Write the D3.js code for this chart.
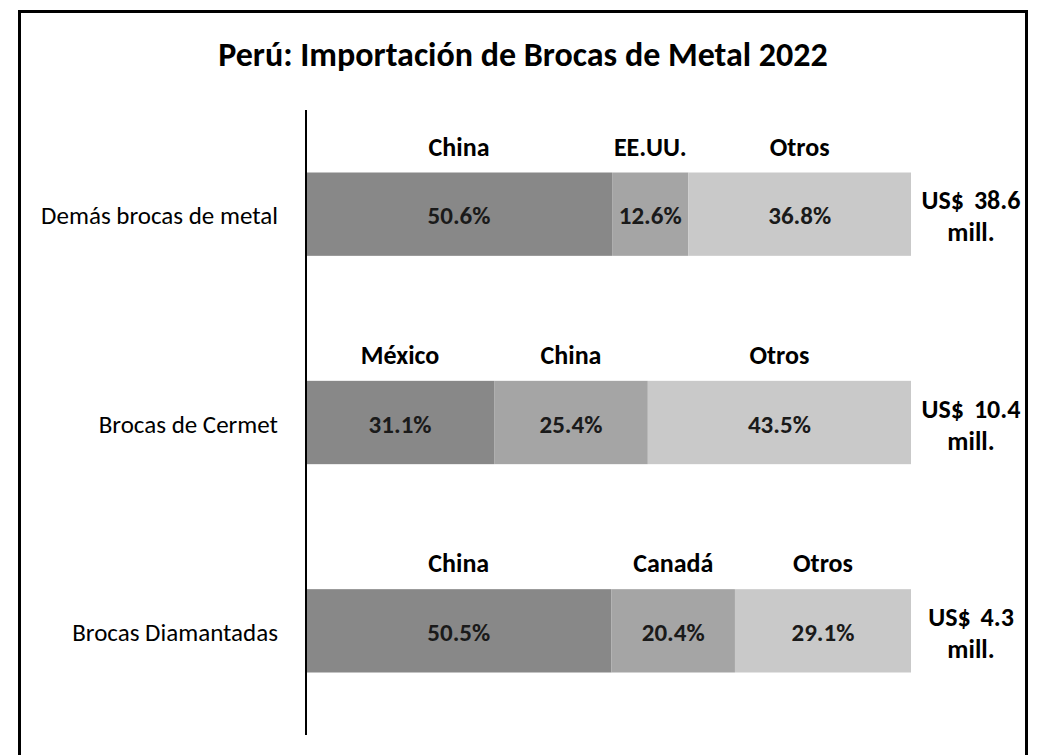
<!DOCTYPE html>
<html>
<head>
<meta charset="utf-8">
<script src="https://cdn.jsdelivr.net/npm/d3@7"></script>
<style>
  html, body { margin: 0; padding: 0; background: #fff; }
  svg { display: block; font-family: Carlito, Calibri, Lato, "Open Sans", sans-serif; }
</style>
</head>
<body>
<svg id="chart" width="1043" height="755"></svg>
<script>
// ---- data ----
const titleText = "Perú: Importación de Brocas de Metal 2022";
const categories = ["Demás brocas de metal", "Brocas de Cermet", "Brocas Diamantadas"];
const countries = [
  ["China", "EE.UU.", "Otros"],
  ["México", "China", "Otros"],
  ["China", "Canadá", "Otros"]
];
const shares = [
  [50.6, 12.6, 36.8],
  [31.1, 25.4, 43.5],
  [50.5, 20.4, 29.1]
];
const totals = [38.6, 10.4, 4.3];
const totalUnit = "mill.";
const segmentColors = ["#888888", "#a5a5a5", "#c9c9c9"];

// ---- layout ----
const W = 1043, H = 755;
const svg = d3.select("#chart");
const plot = { left: 306, right: 911, top: 110, bottom: 735 };

// frame
svg.append("rect")
  .attr("x", 19.5).attr("y", 11.5)
  .attr("width", 1007).attr("height", H + 20)
  .attr("fill", "none").attr("stroke", "#000").attr("stroke-width", 3);

// title
const title = svg.append("text")
  .attr("x", 523).attr("y", 66)
  .attr("text-anchor", "middle")
  .attr("font-weight", "bold")
  .attr("font-size", 30)
  .attr("fill", "#000")
  .text(titleText);
const tw = title.node().getComputedTextLength();
title.attr("font-size", 30 * 610 / tw);

// scales
const x = d3.scaleLinear().domain([0, 100]).range([plot.left, plot.right]);
const y = d3.scaleBand().domain(categories).range([plot.top, plot.bottom])
  .paddingInner(0.6).paddingOuter(0.3);

// stacked rows
const rows = categories.map((c, i) => {
  let acc = 0;
  const segs = shares[i].map((v, j) => {
    const s = { cat: c, country: countries[i][j], value: v, x0: acc, x1: acc + v, idx: j };
    acc += v;
    return s;
  });
  return { cat: c, segs, total: totals[i] };
});

const g = svg.append("g");
const rowG = g.selectAll("g.row").data(rows).join("g").attr("class", "row");

rowG.selectAll("rect.seg").data(d => d.segs).join("rect")
  .attr("class", "seg")
  .attr("x", d => x(d.x0))
  .attr("width", d => x(d.x1) - x(d.x0))
  .attr("y", d => y(d.cat))
  .attr("height", y.bandwidth())
  .attr("fill", d => segmentColors[d.idx]);

// percent labels
rowG.selectAll("text.pct").data(d => d.segs).join("text")
  .attr("class", "pct")
  .attr("x", d => (x(d.x0) + x(d.x1)) / 2)
  .attr("y", d => y(d.cat) + y.bandwidth() / 2 + 10)
  .attr("text-anchor", "middle")
  .attr("font-weight", "bold")
  .attr("font-size", 25)
  .attr("fill", "#1a1a1a")
  .text(d => d.value.toFixed(1) + "%");

// country labels above segments
rowG.selectAll("text.country").data(d => d.segs).join("text")
  .attr("class", "country")
  .attr("x", d => (x(d.x0) + x(d.x1)) / 2)
  .attr("y", d => y(d.cat) - 17)
  .attr("text-anchor", "middle")
  .attr("font-weight", "bold")
  .attr("font-size", 26)
  .attr("fill", "#000")
  .text(d => d.country);

// totals on the right
const tot = rowG.append("text")
  .attr("text-anchor", "middle")
  .attr("font-weight", "bold")
  .attr("font-size", 26)
  .attr("fill", "#000");
tot.append("tspan")
  .attr("x", 971)
  .attr("y", d => y(d.cat) + y.bandwidth() / 2 - 5)
  .attr("word-spacing", 4)
  .text(d => "US$ " + d.total.toFixed(1));
tot.append("tspan")
  .attr("x", 971)
  .attr("y", d => y(d.cat) + y.bandwidth() / 2 + 27)
  .text(totalUnit);

// y axis
const yAxis = d3.axisLeft(y).tickSize(0).tickPadding(28);
const ax = svg.append("g")
  .attr("transform", `translate(${plot.left},0)`)
  .call(yAxis);
ax.select(".domain").attr("stroke", "#000").attr("stroke-width", 2)
  .attr("d", `M0,${plot.top}V${plot.bottom}`);
ax.selectAll(".tick text")
  .attr("font-family", "Carlito, Calibri, Lato, sans-serif")
  .attr("font-size", 25)
  .attr("fill", "#000")
  .attr("dy", "0.4em");
</script>
</body>
</html>
